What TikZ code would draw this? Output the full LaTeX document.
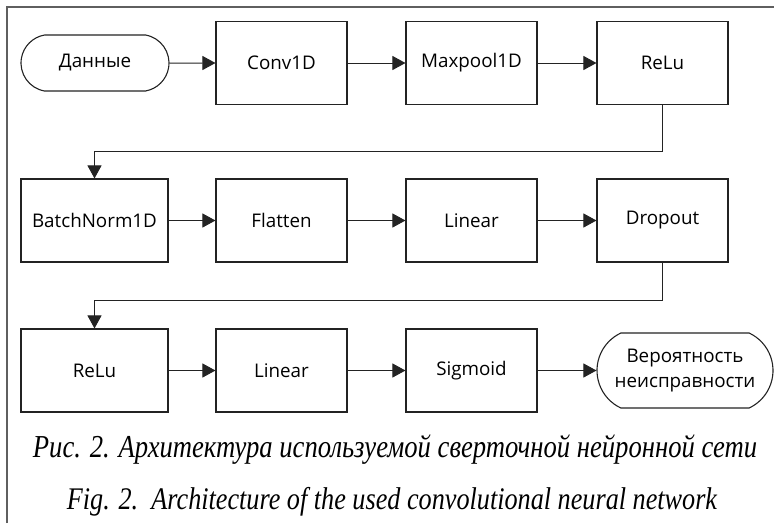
\documentclass[tikz,border=0pt]{standalone}
\usepackage{fontspec}
\usepackage{graphicx}
\setmainfont{Liberation Serif}
\setsansfont{Open Sans}
\usetikzlibrary{arrows.meta,shapes.misc}
\definecolor{framegray}{RGB}{95,95,95}
\definecolor{linegray}{RGB}{35,35,35}

\begin{document}
\begin{tikzpicture}[x=1pt,y=-1pt,
  layer/.style={draw=linegray, line width=1.1pt, minimum width=131pt, minimum height=83pt, inner sep=0pt, font=\sffamily\fontsize{18.8}{25}\selectfont},
  terminal/.style={rounded rectangle, draw=linegray, line width=1.1pt, inner sep=0pt, align=center, font=\sffamily\fontsize{18.8}{25}\selectfont},
  flow/.style={-{Triangle[length=13pt,width=14pt]}, line width=1pt, linegray}]
\useasboundingbox (0,0) rectangle (774,523);

% Frame of the figure
\draw[framegray, line width=1.5pt] (7,523) -- (7,7) -- (774,7);

% First row
\node[terminal, minimum width=148pt, minimum height=56pt, rounded rectangle arc length=160] (data) at (95,63) {Данные};
\node[layer] (conv) at (281.5,63) {Conv1D};
\node[layer] (pool) at (471.5,63) {Maxpool1D};
\node[layer] (relua) at (662.5,63) {ReLu};

% Second row
\node[layer, minimum width=147pt] (bnorm) at (94.5,220.5) {BatchNorm1D};
\node[layer] (flat) at (281.5,220.5) {Flatten};
\node[layer] (lina) at (471.5,220.5) {Linear};
\node[layer] (drop) at (662.5,220.5) {Dropout};

% Third row
\node[layer, minimum width=147pt] (relub) at (94.5,370.5) {ReLu};
\node[layer] (linb) at (281.5,370.5) {Linear};
\node[layer] (sigm) at (471.5,370.5) {Sigmoid};
\node[terminal, minimum width=176pt, minimum height=75pt, rounded rectangle arc length=130] (prob) at (685,370.5) {Вероятность\\неисправности};

% Connecting arrows
\draw[flow] (data) -- (conv);
\draw[flow] (conv) -- (pool);
\draw[flow] (pool) -- (relua);
\draw[flow] (relua.south) -- ++(0,46) -| (bnorm.north);
\draw[flow] (bnorm) -- (flat);
\draw[flow] (flat) -- (lina);
\draw[flow] (lina) -- (drop);
\draw[flow] (drop.south) -- ++(0,38) -| (relub.north);
\draw[flow] (relub) -- (linb);
\draw[flow] (linb) -- (sigm);
\draw[flow] (sigm) -- (prob);

% Caption
\node[anchor=base] (capru) at (395,457) {\resizebox{724pt}{!}{\scalebox{1}[1.2]{\itshape Рис. 2. Архитектура используемой сверточной нейронной сети}}};
\node[anchor=base] (capen) at (392,509) {\resizebox{650pt}{!}{\scalebox{1}[1.2]{\itshape Fig. 2.\ \ Architecture of the used convolutional neural network}}};
\end{tikzpicture}
\end{document}
